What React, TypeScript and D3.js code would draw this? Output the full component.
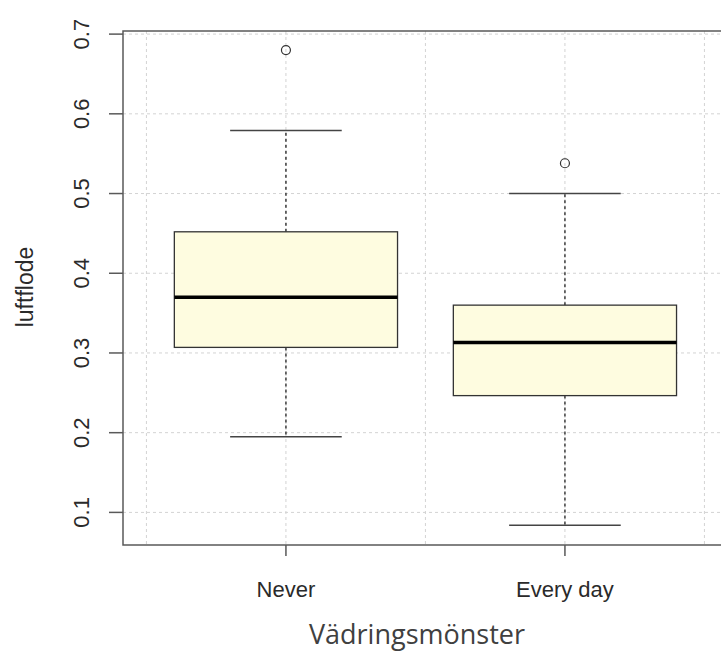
import React from "react";
import * as d3 from "d3";

const categories = ["Never", "Every day"];
const q1 = [0.307, 0.2465];
const medians = [0.37, 0.313];
const q3 = [0.452, 0.36];
const whiskLow = [0.195, 0.084];
const whiskHigh = [0.579, 0.5];
const outliers = [[0.68], [0.538]];
const yTicks = [0.1, 0.2, 0.3, 0.4, 0.5, 0.6, 0.7];
const xGrid = [0.5, 1, 1.5, 2, 2.5];

const W = 721, H = 653;
const left = 123, top = 31, bottom = 545;
const unit = 279;

export default function App() {
  const x = d3.scaleLinear().domain([0.416, 2.584]).range([left, left + unit * 2.168]);
  const y = d3.scaleLinear().domain([0.0591, 0.7039]).range([bottom, top]);
  const right = x(2.584);
  const bw = x(1.4) - x(1);
  const cap = bw / 2;
  const axisCol = "#595959";
  const textCol = "#2a2a2a";
  const font = "Liberation Sans, Arial, sans-serif";
  return (
    <svg width={W} height={H} style={{ position: "absolute", left: 0, top: 0, background: "#fff" }}>
      <defs>
        <clipPath id="pc"><rect x={left} y={top} width={right - left} height={bottom - top} /></clipPath>
      </defs>
      <g clipPath="url(#pc)">
        {yTicks.map((t) => (
          <line key={"h" + t} x1={left} x2={right} y1={y(t)} y2={y(t)} stroke="#d3d3d3" strokeWidth={1} strokeDasharray="3,3" />
        ))}
        {xGrid.map((t) => (
          <line key={"v" + t} x1={x(t)} x2={x(t)} y1={top} y2={bottom} stroke="#d3d3d3" strokeWidth={1} strokeDasharray="3,3" />
        ))}
      </g>
      {categories.map((c, i) => {
        const cx = x(i + 1);
        return (
          <g key={c}>
            <line x1={cx} x2={cx} y1={y(q3[i])} y2={y(whiskHigh[i])} stroke="#222" strokeWidth={1.3} strokeDasharray="3,3" />
            <line x1={cx} x2={cx} y1={y(q1[i])} y2={y(whiskLow[i])} stroke="#222" strokeWidth={1.3} strokeDasharray="3,3" />
            <line x1={cx - cap} x2={cx + cap} y1={y(whiskHigh[i])} y2={y(whiskHigh[i])} stroke="#444" strokeWidth={1.5} />
            <line x1={cx - cap} x2={cx + cap} y1={y(whiskLow[i])} y2={y(whiskLow[i])} stroke="#444" strokeWidth={1.5} />
            <rect x={cx - bw} y={y(q3[i])} width={bw * 2} height={y(q1[i]) - y(q3[i])} fill="#fefce0" stroke="#333" strokeWidth={1.3} />
            <line x1={cx - bw} x2={cx + bw} y1={y(medians[i])} y2={y(medians[i])} stroke="#000" strokeWidth={3.5} />
            {outliers[i].map((o, j) => (
              <circle key={j} cx={cx} cy={y(o)} r={4.5} fill="none" stroke="#333" strokeWidth={1.2} />
            ))}
            <line x1={cx} x2={cx} y1={bottom} y2={bottom + 11} stroke={axisCol} strokeWidth={1.5} />
            <text x={cx} y={597} textAnchor="middle" fontFamily={font} fontSize={22} fill={textCol}>{c}</text>
          </g>
        );
      })}
      <path d={`M${W + 10},${top}H${left}V${bottom}H${W + 10}`} fill="none" stroke={axisCol} strokeWidth={1.5} />
      {yTicks.map((t) => (
        <g key={"t" + t}>
          <line x1={left - 14} x2={left} y1={y(t)} y2={y(t)} stroke={axisCol} strokeWidth={1.5} />
          <text transform={`translate(${89},${y(t)}) rotate(-90)`} textAnchor="middle" fontFamily={font} fontSize={22} fill={textCol}>{t.toFixed(1)}</text>
        </g>
      ))}
      <text transform={`translate(${33},${287}) rotate(-90)`} textAnchor="middle" fontFamily={font} fontSize={23} fill={textCol}>luftflode</text>
      <text x={417} y={644} textAnchor="middle" fontFamily="Open Sans, Noto Sans, sans-serif" fontSize={27} fill="#404040">Vädringsmönster</text>
    </svg>
  );
}
